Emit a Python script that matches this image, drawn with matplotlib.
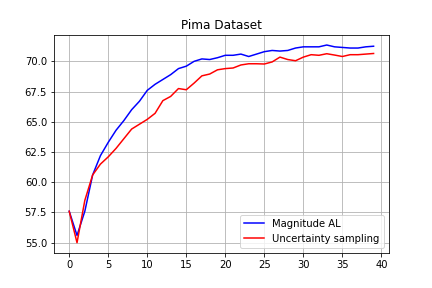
import numpy as np
import matplotlib
matplotlib.use("Agg")
import matplotlib.pyplot as plt
from matplotlib.ticker import MultipleLocator, FormatStrFormatter

# accuracy per query round
rounds = np.arange(40)
magnitude_al = [57.6, 55.6, 57.6, 60.6, 62.2, 63.3, 64.3, 65.1, 66.0, 66.7,
                67.6, 68.1, 68.5, 68.9, 69.4, 69.6, 70.0, 70.2, 70.15, 70.3,
                70.5, 70.5, 70.6, 70.4, 70.6, 70.8, 70.9, 70.85, 70.9, 71.1,
                71.2, 71.2, 71.2, 71.35, 71.2, 71.15, 71.1, 71.1, 71.2, 71.25]
uncertainty = [57.6, 55.0, 58.5, 60.6, 61.5, 62.1, 62.8, 63.6, 64.4, 64.8,
               65.2, 65.7, 66.75, 67.1, 67.75, 67.65, 68.2, 68.8, 68.95, 69.3,
               69.4, 69.45, 69.7, 69.8, 69.8, 69.78, 69.95, 70.35, 70.15, 70.05,
               70.35, 70.55, 70.5, 70.63, 70.52, 70.4, 70.55, 70.55, 70.6, 70.65]

fig, ax = plt.subplots(figsize=(6, 4), dpi=72)
fig.subplots_adjust(left=0.125, right=0.9, bottom=0.123, top=0.878)

ax.plot(rounds, magnitude_al, color='blue', label='Magnitude AL')
ax.plot(rounds, uncertainty, color='red', label='Uncertainty sampling')
ax.yaxis.set_major_locator(MultipleLocator(2.5))
ax.yaxis.set_major_formatter(FormatStrFormatter('%.1f'))
ax.grid(True)
ax.set_title('Pima Dataset')
ax.legend(loc='lower right')

plt.savefig('out.png', dpi=72)
